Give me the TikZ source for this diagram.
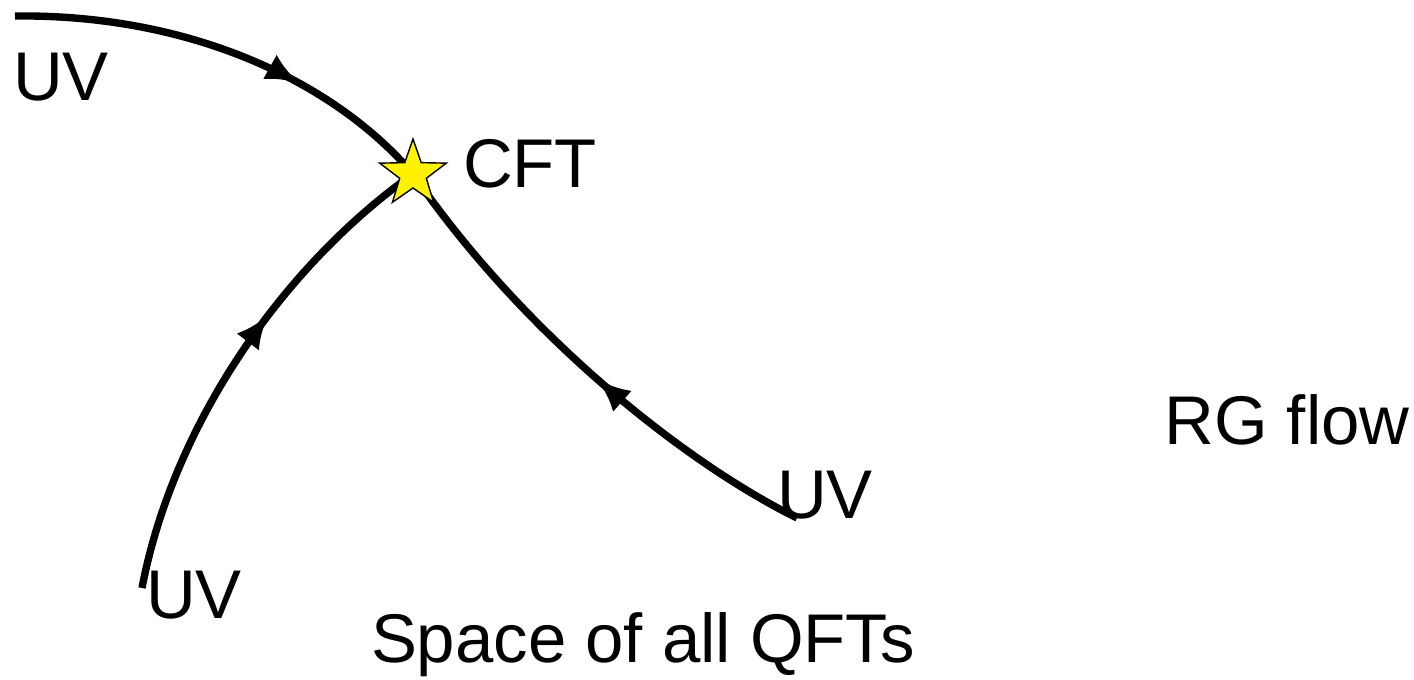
\documentclass[tikz,border=0pt]{standalone}
\usepackage{fontspec}
\setmainfont{Liberation Sans}
\usetikzlibrary{shapes.geometric, arrows.meta, decorations.markings}

\begin{document}
\begin{tikzpicture}[x=0.01cm, y=-0.01cm,
    flow/.style={line width=2.1pt, postaction={decorate},
        decoration={markings, mark=at position #1 with {\arrow{Latex[length=0.34cm, width=0.28cm]}}}},
    lbl/.style={font=\fontsize{19.6}{23}\selectfont, inner sep=0pt}]
    \useasboundingbox (0,0) rectangle (1414,680);
    % fixed point and UV ends
    \coordinate (fp) at (413,174);
    \coordinate (endA) at (15,16);
    \coordinate (endB) at (142,588);
    \coordinate (endC) at (797,518);
    % flows into the CFT
    \draw[flow=0.67] (endA) .. controls (200,14) and (340,88) .. (fp);
    \draw[flow=0.6] (endB) .. controls (172,430) and (278,270) .. (fp);
    \draw[flow=0.47] (endC) .. controls (680,460) and (520,330) .. (fp);
    \node[star, star points=5, star point ratio=2.5, draw=black, thin, fill=yellow,
          minimum size=0.7cm, inner sep=0pt] (cft) at (fp) {};
    % labels
    \node[lbl] (cftlbl) at (530,164) {CFT};
    \node[lbl] (uvA) at (61,77) {UV};
    \node[lbl] (uvB) at (194,595) {UV};
    \node[lbl] (uvC) at (825,495) {UV};
    \node[lbl] (space) at (643,645) {Space of all QFTs};
    \node[lbl] (rg) at (1287,420) {RG flow};
\end{tikzpicture}
\end{document}
